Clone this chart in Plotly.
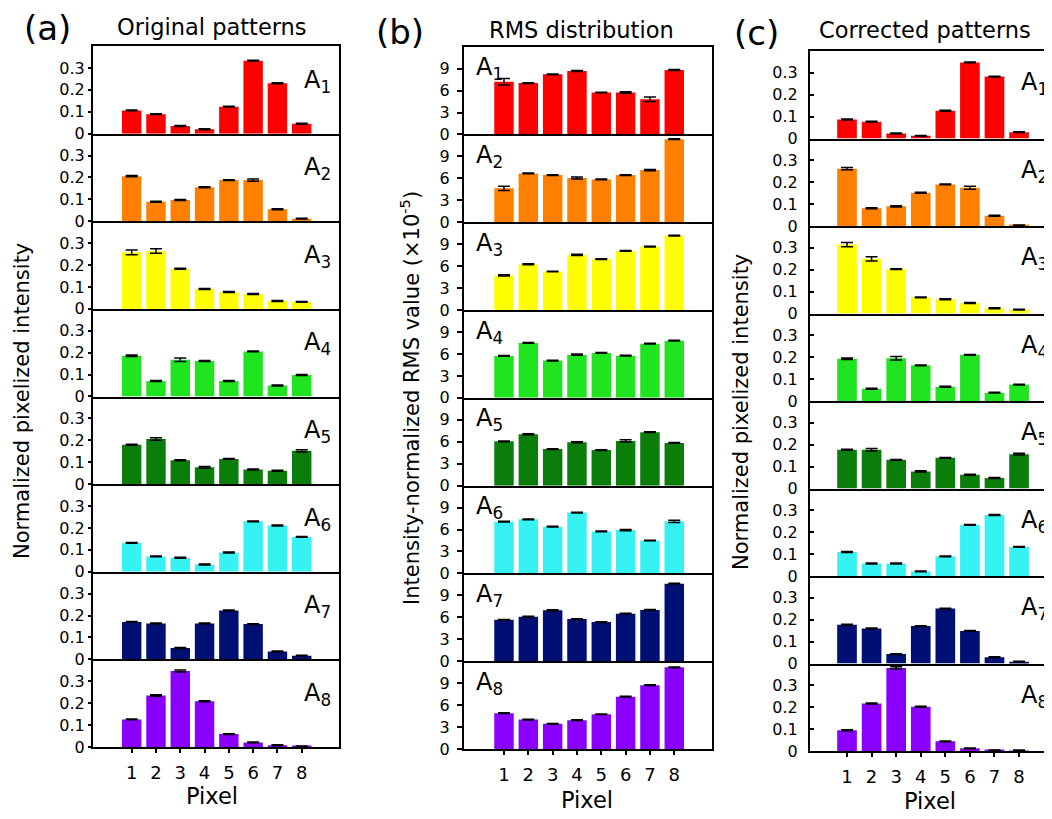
import plotly.graph_objects as go

# The page body has an 8px default margin, so the figure is drawn 8px smaller
# and every reference pixel position is shifted by that offset.
OFF = 8
W, H = 1052 - OFF, 819 - OFF


def fx(px):
    return (px - OFF) / W


def fy(py):
    return 1 - (py - OFF) / H


pixels = [1, 2, 3, 4, 5, 6, 7, 8]
row_labels = ["A<sub>1</sub>", "A<sub>2</sub>", "A<sub>3</sub>", "A<sub>4</sub>",
              "A<sub>5</sub>", "A<sub>6</sub>", "A<sub>7</sub>", "A<sub>8</sub>"]
row_colors = ["#ff0000", "#ff8000", "#ffff00", "#20e420",
              "#0b7d0b", "#36f2f2", "#000f73", "#8a00ff"]

# (a) Original patterns
orig_A1 = [0.106, 0.089, 0.035, 0.020, 0.123, 0.333, 0.230, 0.045]
orig_A2 = [0.206, 0.089, 0.097, 0.155, 0.188, 0.188, 0.055, 0.012]
orig_A3 = [0.258, 0.264, 0.183, 0.091, 0.077, 0.068, 0.036, 0.032]
orig_A4 = [0.186, 0.071, 0.168, 0.162, 0.071, 0.206, 0.050, 0.098]
orig_A5 = [0.180, 0.206, 0.109, 0.077, 0.115, 0.067, 0.061, 0.152]
orig_A6 = [0.132, 0.070, 0.064, 0.033, 0.088, 0.230, 0.211, 0.159]
orig_A7 = [0.171, 0.164, 0.052, 0.164, 0.223, 0.161, 0.036, 0.017]
orig_A8 = [0.126, 0.235, 0.347, 0.209, 0.059, 0.021, 0.008, 0.003]
orig_err_A1 = [0.002, 0.002, 0.002, 0.002, 0.002, 0.002, 0.002, 0.002]
orig_err_A2 = [0.003, 0.002, 0.002, 0.002, 0.002, 0.005, 0.002, 0.002]
orig_err_A3 = [0.011, 0.010, 0.002, 0.002, 0.002, 0.002, 0.002, 0.002]
orig_err_A4 = [0.003, 0.002, 0.008, 0.002, 0.002, 0.002, 0.002, 0.002]
orig_err_A5 = [0.002, 0.006, 0.002, 0.004, 0.002, 0.002, 0.002, 0.005]
orig_err_A6 = [0.002, 0.002, 0.002, 0.002, 0.002, 0.002, 0.002, 0.002]
orig_err_A7 = [0.002, 0.002, 0.002, 0.002, 0.002, 0.002, 0.002, 0.002]
orig_err_A8 = [0.002, 0.003, 0.005, 0.002, 0.002, 0.002, 0.002, 0.002]

# (b) RMS distribution (x10^-5)
rms_A1 = [7.21, 7.03, 8.22, 8.68, 5.74, 5.74, 4.82, 8.82]
rms_A2 = [4.64, 6.68, 6.45, 6.05, 5.86, 6.45, 7.14, 11.36]
rms_A3 = [4.73, 6.27, 5.27, 7.55, 6.95, 8.09, 8.68, 10.18]
rms_A4 = [5.73, 7.50, 5.09, 5.90, 6.14, 5.77, 7.41, 7.82]
rms_A5 = [6.06, 7.03, 5.00, 5.93, 4.87, 6.11, 7.30, 5.83]
rms_A6 = [7.07, 7.40, 6.39, 8.32, 5.74, 5.93, 4.50, 7.12]
rms_A7 = [5.66, 6.08, 6.95, 5.76, 5.35, 6.50, 7.00, 10.60]
rms_A8 = [4.89, 4.03, 3.44, 3.94, 4.75, 7.15, 8.73, 11.17]
rms_err_A1 = [0.45, 0.05, 0.06, 0.06, 0.05, 0.10, 0.30, 0.06]
rms_err_A2 = [0.30, 0.06, 0.05, 0.15, 0.05, 0.05, 0.08, 0.05]
rms_err_A3 = [0.08, 0.06, 0.05, 0.08, 0.05, 0.06, 0.05, 0.05]
rms_err_A4 = [0.05, 0.05, 0.05, 0.08, 0.05, 0.05, 0.05, 0.05]
rms_err_A5 = [0.05, 0.06, 0.05, 0.06, 0.05, 0.15, 0.05, 0.05]
rms_err_A6 = [0.05, 0.05, 0.05, 0.05, 0.05, 0.08, 0.05, 0.15]
rms_err_A7 = [0.05, 0.05, 0.08, 0.05, 0.05, 0.05, 0.08, 0.05]
rms_err_A8 = [0.05, 0.05, 0.05, 0.05, 0.05, 0.05, 0.06, 0.05]

# (c) Corrected patterns
corr_A1 = [0.087, 0.077, 0.023, 0.012, 0.127, 0.348, 0.283, 0.029]
corr_A2 = [0.262, 0.081, 0.090, 0.152, 0.190, 0.175, 0.047, 0.003]
corr_A3 = [0.315, 0.250, 0.203, 0.074, 0.065, 0.048, 0.024, 0.018]
corr_A4 = [0.193, 0.056, 0.195, 0.163, 0.065, 0.211, 0.038, 0.075]
corr_A5 = [0.177, 0.177, 0.131, 0.078, 0.140, 0.063, 0.048, 0.157]
corr_A6 = [0.110, 0.057, 0.057, 0.021, 0.090, 0.234, 0.279, 0.133]
corr_A7 = [0.177, 0.160, 0.043, 0.171, 0.251, 0.149, 0.029, 0.008]
corr_A8 = [0.095, 0.217, 0.380, 0.202, 0.044, 0.012, 0.003, 0.002]
corr_err_A1 = [0.002, 0.002, 0.002, 0.002, 0.002, 0.002, 0.002, 0.002]
corr_err_A2 = [0.005, 0.002, 0.003, 0.002, 0.002, 0.007, 0.002, 0.002]
corr_err_A3 = [0.010, 0.010, 0.002, 0.002, 0.002, 0.002, 0.002, 0.002]
corr_err_A4 = [0.003, 0.002, 0.008, 0.002, 0.002, 0.002, 0.002, 0.002]
corr_err_A5 = [0.002, 0.006, 0.002, 0.003, 0.002, 0.002, 0.002, 0.004]
corr_err_A6 = [0.002, 0.002, 0.002, 0.002, 0.002, 0.002, 0.002, 0.002]
corr_err_A7 = [0.002, 0.002, 0.002, 0.002, 0.002, 0.002, 0.002, 0.002]
corr_err_A8 = [0.002, 0.002, 0.005, 0.002, 0.002, 0.002, 0.002, 0.002]

orig_rows = [orig_A1, orig_A2, orig_A3, orig_A4, orig_A5, orig_A6, orig_A7, orig_A8]
orig_errs = [orig_err_A1, orig_err_A2, orig_err_A3, orig_err_A4, orig_err_A5, orig_err_A6, orig_err_A7, orig_err_A8]
rms_rows = [rms_A1, rms_A2, rms_A3, rms_A4, rms_A5, rms_A6, rms_A7, rms_A8]
rms_errs = [rms_err_A1, rms_err_A2, rms_err_A3, rms_err_A4, rms_err_A5, rms_err_A6, rms_err_A7, rms_err_A8]
corr_rows = [corr_A1, corr_A2, corr_A3, corr_A4, corr_A5, corr_A6, corr_A7, corr_A8]
corr_errs = [corr_err_A1, corr_err_A2, corr_err_A3, corr_err_A4, corr_err_A5, corr_err_A6, corr_err_A7, corr_err_A8]

FONT = "DejaVu Sans"
panels = [
    dict(rows=orig_rows, errs=orig_errs, x0=93, x1=339, top=46, bot=747,
         xr=[-0.593, 9.535], yr=[0, 0.4], tv=[0, 0.1, 0.2, 0.3], tt=["0", "0.1", "0.2", "0.3"],
         ticks="outside", tlen=3, ystand=0, mirror=True, lx=8.0, ly=0.24,
         title="Original patterns", tx=212, ty=27, letter="(a)", letx=47, lety=28,
         ytitle="Normalized pixelized intensity", ytx=22, yty=401, px=212, py=796),
    dict(rows=rms_rows, errs=rms_errs, x0=464, x1=711.5, top=46.7, bot=749,
         xr=[-0.644, 9.53], yr=[0, 12], tv=[0, 3, 6, 9], tt=["0", "3", "6", "9"],
         ticks="outside", tlen=5, ystand=4, mirror=True, lx=-0.25, ly=9.0,
         title="RMS distribution", tx=581, ty=30, letter="(b)", letx=400, lety=32,
         ytitle="Intensity-normalized RMS value (×10<sup>-5</sup>)", ytx=410, yty=398, px=587, py=800),
    dict(rows=corr_rows, errs=corr_errs, x0=810, x1=1052, top=51, bot=751,
         xr=[-0.506, 9.34], yr=[0, 0.4], tv=[0, 0.1, 0.2, 0.3], tt=["0", "0.1", "0.2", "0.3"],
         ticks="inside", tlen=4, ystand=7, mirror=False, lx=8.0, ly=0.25,
         title="Corrected patterns", tx=925, ty=30, letter="(c)", letx=756, lety=33,
         ytitle="Normalized pixelized intensity", ytx=741, yty=412, px=930, py=801),
]

fig = go.Figure()
layout = dict(width=W, height=H, margin=dict(l=0, r=0, t=0, b=0, pad=0),
              paper_bgcolor="white", plot_bgcolor="white", showlegend=False,
              font=dict(family=FONT, color="black"), bargap=0.2)
annotations = []

for c, p in enumerate(panels):
    h = (p["bot"] - p["top"]) / 8.0
    for r in range(8):
        n = r * 3 + c + 1
        sfx = "" if n == 1 else str(n)
        ytop = p["top"] + r * h
        ybot = p["top"] + (r + 1) * h
        fig.add_trace(go.Bar(
            x=pixels, y=p["rows"][r], width=0.8,
            marker=dict(color=row_colors[r], line=dict(width=0)),
            error_y=dict(type="data", array=p["errs"][r], color="black", thickness=1.5, width=6),
            xaxis="x" + sfx, yaxis="y" + sfx, hoverinfo="skip",
        ))
        bottom = (r == 7)
        layout["xaxis" + sfx] = dict(
            domain=[max(fx(p["x0"]), 0.0), min(fx(p["x1"]), 1.0)], range=p["xr"], anchor="y" + sfx,
            showline=True, linecolor="black", linewidth=2, mirror=(r == 0),
            showgrid=False, zeroline=False, automargin=False,
            tickvals=pixels, ticktext=[str(v) for v in pixels],
            showticklabels=bottom, ticks="outside" if bottom else "", ticklen=4, tickwidth=1.5,
            tickcolor="black", tickfont=dict(size=18, family=FONT), ticklabelstandoff=4,
        )
        layout["yaxis" + sfx] = dict(
            domain=[fy(ybot), fy(ytop)], range=p["yr"], anchor="x" + sfx,
            showline=True, linecolor="black", linewidth=2, mirror=p["mirror"],
            showgrid=False, zeroline=False, automargin=False,
            tickvals=p["tv"], ticktext=p["tt"], ticks=p["ticks"], ticklen=p["tlen"],
            tickwidth=1.5, tickcolor="black", tickfont=dict(size=16, family=FONT),
            ticklabelstandoff=p["ystand"],
        )
        annotations.append(dict(
            text=row_labels[r], xref="x" + sfx, yref="y" + sfx, x=p["lx"], y=p["ly"],
            xanchor="left", yanchor="middle", showarrow=False,
            font=dict(size=24, family=FONT, color="black"),
        ))
    annotations.append(dict(text=p["title"], xref="paper", yref="paper",
                            x=fx(p["tx"]), y=fy(p["ty"]), xanchor="center", yanchor="middle",
                            showarrow=False, font=dict(size=22.5, family=FONT)))
    annotations.append(dict(text=p["letter"], xref="paper", yref="paper",
                            x=fx(p["letx"]), y=fy(p["lety"]), xanchor="center", yanchor="middle",
                            showarrow=False, font=dict(size=34, family=FONT)))
    annotations.append(dict(text=p["ytitle"], xref="paper", yref="paper", textangle=-90,
                            x=fx(p["ytx"]), y=fy(p["yty"]), xanchor="center", yanchor="middle",
                            showarrow=False, font=dict(size=21, family=FONT)))
    annotations.append(dict(text="Pixel", xref="paper", yref="paper",
                            x=fx(p["px"]), y=fy(p["py"]), xanchor="center", yanchor="middle",
                            showarrow=False, font=dict(size=22.5, family=FONT)))

layout["annotations"] = annotations
fig.update_layout(**layout)
fig.write_html("out.html")
